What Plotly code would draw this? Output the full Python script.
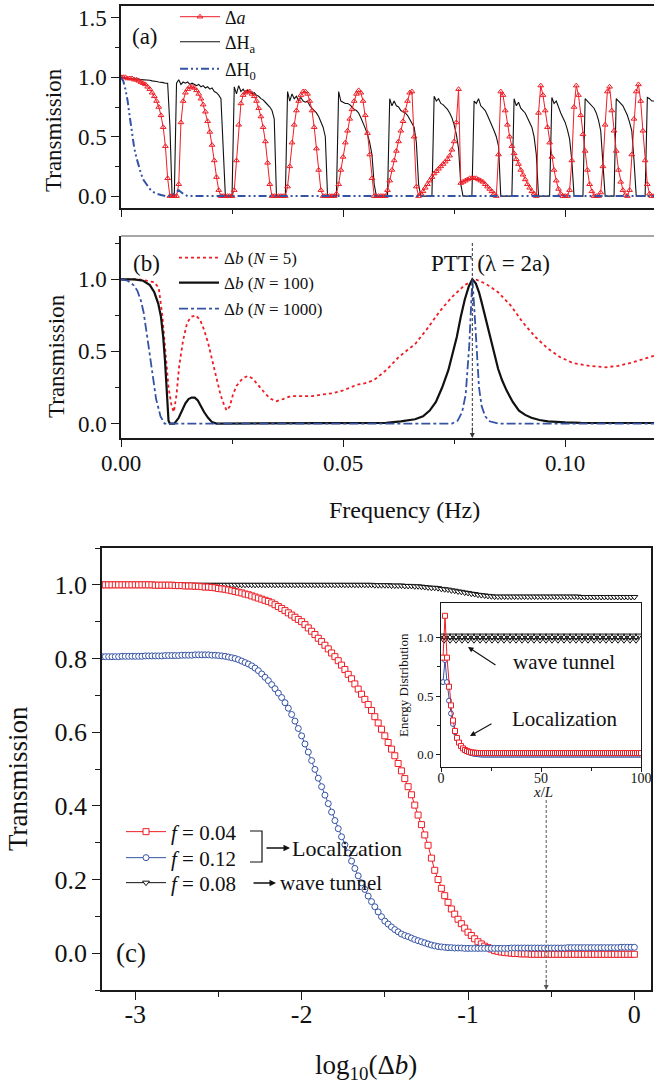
import numpy as np
import plotly.graph_objects as go

W, H = 654, 1086
FONT = "Liberation Serif, Times New Roman, Times, serif"
RED = "#ee1d25"
BLUE = "#3553a5"
BLACK = "#111111"
AXIS = "#1a1a1a"

# ---------------- panel (a): spectra sampled every 0.0005 Hz from 0 ----------------
FREQ_STEP_A = 0.0005

DELTA_A = [
    1.00, 1.00, 1.00, 0.99, 0.99, 0.99, 0.98, 0.98, 0.97, 0.96,
    0.95, 0.94, 0.92, 0.90, 0.87, 0.84, 0.80, 0.75, 0.68, 0.58,
    0.42, 0.15, 0.00, 0.00, 0.00, 0.00, 0.10, 0.62, 0.80, 0.87,
    0.90, 0.92, 0.92, 0.91, 0.89, 0.86, 0.82, 0.77, 0.71, 0.63,
    0.54, 0.43, 0.30, 0.16, 0.05, 0.00, 0.00, 0.00, 0.00, 0.00,
    0.00, 0.05, 0.30, 0.60, 0.78, 0.85, 0.87, 0.88, 0.88, 0.86,
    0.84, 0.80, 0.74, 0.67, 0.58, 0.46, 0.28, 0.10, 0.00, 0.00,
    0.00, 0.00, 0.00, 0.00, 0.00, 0.08, 0.25, 0.45, 0.60, 0.72,
    0.80, 0.85, 0.88, 0.88, 0.86, 0.80, 0.72, 0.58, 0.40, 0.22,
    0.05, 0.00, 0.00, 0.00, 0.00, 0.00, 0.00, 0.02, 0.10, 0.22,
    0.33, 0.45, 0.55, 0.65, 0.73, 0.80, 0.86, 0.89, 0.87, 0.80,
    0.68, 0.53, 0.35, 0.15, 0.00, 0.00, 0.00, 0.00, 0.00, 0.00,
    0.05, 0.13, 0.22, 0.30, 0.38, 0.46, 0.55, 0.63, 0.72, 0.80,
    0.87, 0.88, 0.50, 0.08, 0.00, 0.02, 0.04, 0.07, 0.10, 0.13,
    0.16, 0.19, 0.21, 0.23, 0.25, 0.27, 0.29, 0.31, 0.34, 0.39,
    0.46, 0.62, 0.90, 0.11, 0.12, 0.13, 0.14, 0.15, 0.15, 0.15,
    0.15, 0.14, 0.13, 0.12, 0.10, 0.08, 0.06, 0.04, 0.02, 0.00,
    0.35, 0.88, 0.85, 0.72, 0.60, 0.50, 0.42, 0.36, 0.31, 0.27,
    0.22, 0.18, 0.14, 0.10, 0.07, 0.04, 0.02, 0.00, 0.70, 0.93,
    0.85, 0.72, 0.58, 0.45, 0.33, 0.22, 0.13, 0.06, 0.02, 0.00,
    0.00, 0.00, 0.05, 0.30, 0.75, 0.93, 0.85, 0.68, 0.52, 0.38,
    0.22, 0.10, 0.04, 0.00, 0.00, 0.00, 0.03, 0.25, 0.60, 0.88,
    0.92, 0.72, 0.55, 0.38, 0.22, 0.12, 0.05, 0.01, 0.00, 0.05,
    0.35, 0.65, 0.88, 0.94, 0.80, 0.55, 0.30, 0.10, 0.02, 0.00, 0.00,
]

DELTA_HA = [
    1.00, 1.00, 0.995, 0.99, 0.99, 0.99, 0.99, 0.985, 0.985, 0.98,
    0.98, 0.98, 0.975, 0.975, 0.97, 0.97, 0.965, 0.96, 0.96, 0.955,
    0.95, 0.95, 0.60, 0.00, 0.00, 0.95, 0.98, 0.94, 0.96, 0.95,
    0.96, 0.94, 0.95, 0.94, 0.93, 0.94, 0.92, 0.93, 0.91, 0.92,
    0.90, 0.91, 0.88, 0.87, 0.85, 0.82, 0.40, 0.00, 0.00, 0.00,
    0.00, 0.92, 0.86, 0.93, 0.88, 0.90, 0.87, 0.89, 0.88, 0.86,
    0.87, 0.85, 0.84, 0.82, 0.81, 0.79, 0.77, 0.75, 0.72, 0.65,
    0.00, 0.00, 0.00, 0.00, 0.00, 0.88, 0.80, 0.86, 0.82, 0.84,
    0.80, 0.83, 0.80, 0.79, 0.80, 0.76, 0.74, 0.72, 0.70, 0.67,
    0.63, 0.58, 0.50, 0.00, 0.00, 0.00, 0.00, 0.00, 0.88, 0.80,
    0.79, 0.78, 0.78, 0.77, 0.75, 0.73, 0.72, 0.70, 0.66, 0.62,
    0.57, 0.52, 0.45, 0.35, 0.10, 0.00, 0.00, 0.00, 0.00, 0.00,
    0.00, 0.82, 0.76, 0.80, 0.76, 0.75, 0.72, 0.71, 0.70, 0.68,
    0.65, 0.62, 0.58, 0.45, 0.10, 0.00, 0.00, 0.00, 0.00, 0.00,
    0.00, 0.84, 0.80, 0.82, 0.78, 0.77, 0.75, 0.73, 0.70, 0.66,
    0.60, 0.52, 0.40, 0.10, 0.00, 0.00, 0.00, 0.00, 0.00, 0.80,
    0.78, 0.82, 0.76, 0.74, 0.72, 0.68, 0.64, 0.60, 0.55, 0.50,
    0.42, 0.00, 0.00, 0.00, 0.00, 0.00, 0.00, 0.82, 0.76, 0.79,
    0.74, 0.72, 0.70, 0.66, 0.62, 0.58, 0.50, 0.35, 0.00, 0.00,
    0.00, 0.00, 0.00, 0.00, 0.83, 0.78, 0.80, 0.74, 0.70, 0.66,
    0.62, 0.56, 0.48, 0.30, 0.00, 0.00, 0.00, 0.00, 0.00, 0.82,
    0.80, 0.78, 0.76, 0.74, 0.70, 0.64, 0.55, 0.30, 0.00, 0.00,
    0.00, 0.00, 0.00, 0.82, 0.80, 0.78, 0.76, 0.72, 0.68, 0.62,
    0.55, 0.30, 0.00, 0.00, 0.00, 0.00, 0.00, 0.83, 0.82, 0.80, 0.80,
]

H0_FREQ = [0.0, 0.0005, 0.001, 0.0015, 0.002, 0.0025, 0.003, 0.0035, 0.004,
           0.0045, 0.005, 0.0055, 0.006, 0.0065, 0.007, 0.0075, 0.008, 0.009,
           0.010, 0.011, 0.012, 0.013, 0.014, 0.015, 0.02, 0.03, 0.04, 0.05,
           0.06, 0.07, 0.08, 0.09, 0.10, 0.11, 0.12]
H0_T = [1.00, 0.97, 0.90, 0.80, 0.66, 0.52, 0.40, 0.32, 0.25,
        0.19, 0.14, 0.11, 0.08, 0.06, 0.04, 0.03, 0.02, 0.01,
        0.00, 0.00, 0.02, 0.05, 0.02, 0.00, 0.00, 0.00, 0.00, 0.00,
        0.00, 0.00, 0.00, 0.00, 0.00, 0.00, 0.00]

# ---------------- panel (b): (frequency, transmission) pairs ----------------
PTT_FREQ = 0.0791

N5 = [(0.0, 1.0), (0.004, 1.0), (0.0075, 0.98), (0.0085, 0.94), (0.0093, 0.75),
      (0.0100, 0.50), (0.0107, 0.25), (0.0114, 0.12), (0.0119, 0.08), (0.0125, 0.20),
      (0.0131, 0.40), (0.0140, 0.58), (0.0149, 0.70), (0.0158, 0.74), (0.0168, 0.75),
      (0.0178, 0.72), (0.0187, 0.65), (0.0196, 0.56), (0.0205, 0.45), (0.0215, 0.32),
      (0.0224, 0.20), (0.0232, 0.13), (0.0238, 0.09), (0.0245, 0.12), (0.0252, 0.20),
      (0.0260, 0.26), (0.0270, 0.30), (0.0278, 0.32), (0.0286, 0.33), (0.0297, 0.31),
      (0.0308, 0.27), (0.0318, 0.23), (0.0327, 0.20), (0.0338, 0.17), (0.0350, 0.155),
      (0.0365, 0.17), (0.0382, 0.19), (0.0400, 0.19), (0.0429, 0.19), (0.0450, 0.20),
      (0.0476, 0.21), (0.0500, 0.23), (0.0532, 0.27), (0.0550, 0.28), (0.0569, 0.30),
      (0.0597, 0.37), (0.0625, 0.46), (0.0645, 0.51), (0.0662, 0.55), (0.0690, 0.66),
      (0.0718, 0.78), (0.0746, 0.88), (0.0774, 0.96), (0.0798, 1.00), (0.0821, 0.97),
      (0.0849, 0.91), (0.0877, 0.82), (0.0905, 0.70), (0.0933, 0.60), (0.0961, 0.52),
      (0.0989, 0.46), (0.1017, 0.42), (0.1054, 0.40), (0.1091, 0.39), (0.1119, 0.40),
      (0.1147, 0.42), (0.1200, 0.47)]

N100 = [(0.0, 1.0), (0.003, 1.0), (0.005, 0.99), (0.0065, 0.96), (0.0075, 0.91),
        (0.0084, 0.83), (0.0090, 0.74), (0.0095, 0.60), (0.0099, 0.44), (0.0103, 0.20),
        (0.0107, 0.02), (0.0110, 0.0), (0.0120, 0.0), (0.0130, 0.04), (0.0138, 0.10),
        (0.0145, 0.14), (0.0152, 0.17), (0.0159, 0.18), (0.0166, 0.18), (0.0173, 0.16),
        (0.0180, 0.12), (0.0187, 0.08), (0.0196, 0.04), (0.0205, 0.01), (0.0215, 0.0),
        (0.0400, 0.0), (0.0597, 0.005), (0.0630, 0.015), (0.0662, 0.03), (0.0680, 0.05),
        (0.0695, 0.09), (0.0709, 0.15), (0.0723, 0.25), (0.0737, 0.37), (0.0746, 0.47),
        (0.0756, 0.60), (0.0765, 0.74), (0.0774, 0.86), (0.0783, 0.95), (0.0791, 1.0),
        (0.0799, 0.97), (0.0806, 0.91), (0.0812, 0.84), (0.0821, 0.73), (0.0830, 0.61),
        (0.0839, 0.49), (0.0849, 0.38), (0.0858, 0.30), (0.0868, 0.23), (0.0882, 0.15),
        (0.0896, 0.09), (0.0910, 0.06), (0.0924, 0.04), (0.0942, 0.025), (0.0961, 0.015),
        (0.1000, 0.008), (0.1035, 0.005), (0.1200, 0.004)]

N1000 = [(0.0, 1.0), (0.0015, 0.99), (0.0028, 0.96), (0.0037, 0.92), (0.0045, 0.85),
         (0.0051, 0.77), (0.0061, 0.56), (0.0070, 0.35), (0.0079, 0.17), (0.0089, 0.05),
         (0.0098, 0.0), (0.0745, 0.0), (0.0758, 0.02), (0.0768, 0.08), (0.0776, 0.20),
         (0.0784, 0.54), (0.0788, 0.80), (0.0791, 1.0), (0.0795, 0.82), (0.0800, 0.54),
         (0.0806, 0.25), (0.0812, 0.12), (0.0820, 0.05), (0.0830, 0.016), (0.0850, 0.0),
         (0.1200, 0.0)]

# ---------------- panel (c): transmission vs log10(Δb), step 0.02 from -3.2 ----------------
LOG_START, LOG_STEP = -3.2, 0.02

T_F004 = [
    1.000, 1.000, 1.000, 1.000, 1.000, 1.000, 1.000, 1.000, 1.000, 1.000,
    1.000, 1.000, 1.000, 1.000, 1.000, 1.000, 0.999, 0.999, 0.999, 0.999,
    0.999, 0.999, 0.998, 0.998, 0.998, 0.997, 0.997, 0.997, 0.996, 0.996,
    0.995, 0.994, 0.994, 0.993, 0.992, 0.990, 0.989, 0.988, 0.986, 0.984,
    0.982, 0.980, 0.978, 0.975, 0.973, 0.970, 0.967, 0.964, 0.961, 0.958,
    0.955, 0.951, 0.946, 0.941, 0.936, 0.930, 0.924, 0.918, 0.912, 0.906,
    0.900, 0.892, 0.883, 0.874, 0.865, 0.855, 0.846, 0.836, 0.826, 0.815,
    0.805, 0.794, 0.782, 0.770, 0.757, 0.745, 0.731, 0.717, 0.703, 0.689,
    0.675, 0.659, 0.642, 0.625, 0.608, 0.590, 0.572, 0.554, 0.536, 0.515,
    0.495, 0.474, 0.452, 0.430, 0.402, 0.375, 0.349, 0.321, 0.293, 0.258,
    0.225, 0.200, 0.176, 0.156, 0.138, 0.120, 0.106, 0.092, 0.080, 0.068,
    0.057, 0.048, 0.039, 0.031, 0.025, 0.019, 0.015, 0.011, 0.007, 0.005,
    0.003, 0.002, 0.001, 0.000, -0.001, -0.001, -0.002, -0.002, -0.002, -0.003,
    -0.003, -0.003, -0.003, -0.003, -0.003, -0.003, -0.003, -0.003, -0.003, -0.003,
    -0.003, -0.003, -0.003, -0.003, -0.003, -0.003, -0.003, -0.003, -0.003, -0.003,
    -0.003, -0.003, -0.003, -0.003, -0.003, -0.003, -0.003, -0.003, -0.003, -0.003, -0.003,
]

T_F012 = [
    0.805, 0.805, 0.805, 0.805, 0.805, 0.805, 0.806, 0.806, 0.806, 0.806,
    0.806, 0.806, 0.806, 0.807, 0.807, 0.807, 0.807, 0.807, 0.807, 0.808,
    0.808, 0.808, 0.808, 0.808, 0.809, 0.809, 0.809, 0.809, 0.810, 0.810,
    0.810, 0.810, 0.810, 0.809, 0.809, 0.808, 0.807, 0.806, 0.804, 0.802,
    0.800, 0.797, 0.793, 0.789, 0.785, 0.780, 0.774, 0.767, 0.758, 0.749,
    0.740, 0.729, 0.718, 0.706, 0.694, 0.680, 0.665, 0.648, 0.630, 0.610,
    0.590, 0.568, 0.546, 0.523, 0.499, 0.475, 0.452, 0.429, 0.406, 0.383,
    0.360, 0.338, 0.316, 0.294, 0.272, 0.250, 0.230, 0.210, 0.191, 0.173,
    0.155, 0.140, 0.126, 0.112, 0.099, 0.087, 0.079, 0.071, 0.064, 0.058,
    0.052, 0.048, 0.045, 0.041, 0.037, 0.034, 0.031, 0.028, 0.025, 0.022,
    0.020, 0.018, 0.017, 0.016, 0.015, 0.015, 0.014, 0.014, 0.014, 0.013,
    0.013, 0.013, 0.013, 0.013, 0.013, 0.013, 0.013, 0.013, 0.013, 0.013,
    0.013, 0.013, 0.013, 0.014, 0.014, 0.014, 0.014, 0.014, 0.014, 0.014,
    0.014, 0.014, 0.014, 0.014, 0.014, 0.014, 0.014, 0.014, 0.014, 0.014,
    0.015, 0.015, 0.015, 0.015, 0.015, 0.015, 0.015, 0.015, 0.015, 0.015,
    0.015, 0.015, 0.015, 0.015, 0.015, 0.015, 0.016, 0.016, 0.016, 0.016, 0.016,
]

T_F008 = [
    1.000, 1.000, 1.000, 1.000, 1.000, 1.000, 1.000, 1.000, 1.000, 1.000,
    1.000, 1.000, 1.000, 1.000, 1.000, 1.000, 1.000, 1.000, 1.000, 1.000,
    1.000, 1.000, 1.000, 1.000, 1.000, 1.000, 1.000, 1.000, 1.000, 1.000,
    1.000, 1.000, 1.000, 1.000, 1.000, 1.000, 1.000, 1.000, 1.000, 1.000,
    1.000, 1.000, 1.000, 1.000, 1.000, 1.000, 1.000, 1.000, 1.000, 1.000,
    1.000, 1.000, 1.000, 1.000, 1.000, 1.000, 1.000, 1.000, 1.000, 1.000,
    1.000, 1.000, 1.000, 1.000, 1.000, 1.000, 1.000, 1.000, 1.000, 1.000,
    1.000, 1.000, 1.000, 1.000, 1.000, 1.000, 1.000, 1.000, 1.000, 1.000,
    1.000, 1.000, 0.999, 0.999, 0.999, 0.999, 0.999, 0.998, 0.998, 0.998,
    0.998, 0.997, 0.997, 0.997, 0.996, 0.996, 0.995, 0.994, 0.993, 0.992,
    0.992, 0.991, 0.989, 0.988, 0.987, 0.985, 0.984, 0.982, 0.981, 0.979,
    0.978, 0.976, 0.975, 0.973, 0.972, 0.971, 0.970, 0.969, 0.968, 0.968,
    0.968, 0.968, 0.968, 0.968, 0.968, 0.968, 0.968, 0.968, 0.968, 0.968,
    0.968, 0.968, 0.968, 0.968, 0.968, 0.968, 0.968, 0.968, 0.968, 0.968,
    0.968, 0.968, 0.968, 0.968, 0.967, 0.967, 0.967, 0.967, 0.967, 0.967,
    0.967, 0.967, 0.967, 0.967, 0.967, 0.967, 0.967, 0.967, 0.967, 0.967, 0.967,
]
LOG_ARROW = -0.53

# inset: energy distribution along x/L (cells 1..100)
INSET_F004 = [
    0.83, 1.19, 0.83, 0.58, 0.42, 0.29, 0.20, 0.14, 0.10, 0.07,
    0.050, 0.036, 0.027, 0.021, 0.017, 0.014, 0.012, 0.011, 0.010, 0.010,
    0.010, 0.010, 0.010, 0.010, 0.010, 0.010, 0.010, 0.010, 0.010, 0.010,
    0.010, 0.010, 0.010, 0.010, 0.010, 0.010, 0.010, 0.010, 0.010, 0.010,
    0.010, 0.010, 0.010, 0.010, 0.010, 0.010, 0.010, 0.010, 0.010, 0.010,
    0.010, 0.010, 0.010, 0.010, 0.010, 0.010, 0.010, 0.010, 0.010, 0.010,
    0.010, 0.010, 0.010, 0.010, 0.010, 0.010, 0.010, 0.010, 0.010, 0.010,
    0.010, 0.010, 0.010, 0.010, 0.010, 0.010, 0.010, 0.010, 0.010, 0.010,
    0.010, 0.010, 0.010, 0.010, 0.010, 0.010, 0.010, 0.010, 0.010, 0.010,
    0.010, 0.010, 0.010, 0.010, 0.010, 0.010, 0.010, 0.010, 0.010, 0.010,
]
INSET_F012 = [
    0.62, 0.81, 0.62, 0.46, 0.35, 0.26, 0.19, 0.14, 0.10, 0.07,
    0.050, 0.035, 0.024, 0.016, 0.010, 0.005, 0.002, 0.000, -0.002, -0.004,
    -0.005, -0.005, -0.005, -0.005, -0.005, -0.005, -0.005, -0.005, -0.005, -0.005,
    -0.005, -0.005, -0.005, -0.005, -0.005, -0.005, -0.005, -0.005, -0.005, -0.005,
    -0.005, -0.005, -0.005, -0.005, -0.005, -0.005, -0.005, -0.005, -0.005, -0.005,
    -0.005, -0.005, -0.005, -0.005, -0.005, -0.005, -0.005, -0.005, -0.005, -0.005,
    -0.005, -0.005, -0.005, -0.005, -0.005, -0.005, -0.005, -0.005, -0.005, -0.005,
    -0.005, -0.005, -0.005, -0.005, -0.005, -0.005, -0.005, -0.005, -0.005, -0.005,
    -0.005, -0.005, -0.005, -0.005, -0.005, -0.005, -0.005, -0.005, -0.005, -0.005,
    -0.005, -0.005, -0.005, -0.005, -0.005, -0.005, -0.005, -0.005, -0.005, -0.005,
]
INSET_F008_STEP = 1.5
INSET_F008 = [
    1.02, 0.98, 1.02, 0.98, 1.02, 0.98, 1.02, 0.98, 1.02, 0.98,
    1.02, 0.98, 1.02, 0.98, 1.02, 0.98, 1.02, 0.98, 1.02, 0.98,
    1.02, 0.98, 1.02, 0.98, 1.02, 0.98, 1.02, 0.98, 1.02, 0.98,
    1.02, 0.98, 1.02, 0.98, 1.02, 0.98, 1.02, 0.98, 1.02, 0.98,
    1.02, 0.98, 1.02, 0.98, 1.02, 0.98, 1.02, 0.98, 1.02, 0.98,
    1.02, 0.98, 1.02, 0.98, 1.02, 0.98, 1.02, 0.98, 1.02, 0.98,
    1.02, 0.98, 1.02, 0.98, 1.02, 0.98, 1.02,
]


def px(x):
    return x / W


def py(y):
    return 1 - y / H


freq_a = np.arange(len(DELTA_A)) * FREQ_STEP_A
freq_ha = np.arange(len(DELTA_HA)) * FREQ_STEP_A


def log_b(arr):
    return LOG_START + LOG_STEP * np.arange(len(arr))


fig = go.Figure()

# ---- panel (a)
fig.add_trace(go.Scatter(x=freq_ha, y=DELTA_HA, mode="lines", name="ΔH<sub>a</sub>",
                         line=dict(color=BLACK, width=1.1), xaxis="x", yaxis="y",
                         legend="legend2"))
fig.add_trace(go.Scatter(x=freq_a, y=DELTA_A, mode="lines+markers", name="Δ<i>a</i>",
                         line=dict(color=RED, width=1),
                         marker=dict(symbol="triangle-up-open", size=5, color=RED,
                                     line=dict(width=1)),
                         xaxis="x", yaxis="y", legend="legend"))
fig.add_trace(go.Scatter(x=H0_FREQ, y=H0_T, mode="lines", name="ΔH<sub>0</sub>",
                         line=dict(color=BLUE, width=2, dash="8px,3px,2px,3px,2px,3px"),
                         xaxis="x", yaxis="y", legend="legend3"))

# ---- panel (b)
for pts, name, style, leg in [
    (N5, "Δ<i>b</i> (<i>N</i> = 5)", dict(color=RED, width=1.8, dash="dot"), "legend4"),
    (N100, "Δ<i>b</i> (<i>N</i> = 100)", dict(color=BLACK, width=2.2), "legend5"),
    (N1000, "Δ<i>b</i> (<i>N</i> = 1000)", dict(color=BLUE, width=1.8, dash="dashdot"), "legend6"),
]:
    fx, fy = zip(*pts)
    fig.add_trace(go.Scatter(x=fx, y=fy, mode="lines", name=name, line=style,
                             xaxis="x2", yaxis="y2", legend=leg))

# ---- panel (c)
for vals, name, sym, col, leg in [
    (T_F008, "<i>f</i> = 0.08", "triangle-down", BLACK, "legend9"),
    (T_F004, "<i>f</i> = 0.04", "square", RED, "legend7"),
    (T_F012, "<i>f</i> = 0.12", "circle", BLUE, "legend8"),
]:
    fig.add_trace(go.Scatter(x=log_b(vals), y=vals, mode="lines+markers", name=name,
                             line=dict(color=col, width=1),
                             marker=dict(symbol=sym, size=6, color="white",
                                         line=dict(color=col, width=1)),
                             xaxis="x3", yaxis="y3", legend=leg))

# ---- inset
fig.add_trace(go.Scatter(x=np.arange(len(INSET_F008)) * INSET_F008_STEP, y=INSET_F008,
                         mode="lines+markers", line=dict(color=BLACK, width=1),
                         marker=dict(symbol="triangle-down-open", size=6, color=BLACK),
                         xaxis="x4", yaxis="y4", showlegend=False))
fig.add_trace(go.Scatter(x=np.arange(1, len(INSET_F012) + 1), y=INSET_F012,
                         mode="lines+markers", line=dict(color=BLUE, width=1),
                         marker=dict(symbol="circle", size=5, color="white",
                                     line=dict(color=BLUE, width=1)),
                         xaxis="x4", yaxis="y4", showlegend=False))
fig.add_trace(go.Scatter(x=np.arange(1, len(INSET_F004) + 1), y=INSET_F004,
                         mode="lines+markers", line=dict(color=RED, width=1),
                         marker=dict(symbol="square", size=5, color="white",
                                     line=dict(color=RED, width=1)),
                         xaxis="x4", yaxis="y4", showlegend=False))

axis_common = dict(showline=True, linecolor=AXIS, linewidth=1.5, showgrid=False,
                   zeroline=False, ticks="outside", tickcolor=AXIS, tickwidth=1.3,
                   automargin=False,
                   tickfont=dict(family=FONT, size=23, color=BLACK))

fa_x = dict(axis_common, domain=[px(121), 1.0], range=[0, 0.12], tick0=0, dtick=0.05,
            ticklen=7, minor=dict(dtick=0.025, ticks="outside", ticklen=4, tickcolor=AXIS))
fa_y = dict(axis_common, range=[-0.1, 1.6], dtick=0.5, tick0=0, tickformat=".1f", ticklen=8,
            minor=dict(dtick=0.25, ticks="outside", ticklen=4, tickcolor=AXIS))


def legend_at(x, y, size):
    # one legend entry whose sample starts at pixel x and is centred on pixel row y
    return dict(x=px(x), y=py(y), xanchor="left", yanchor="middle",
                bgcolor="rgba(0,0,0,0)", borderwidth=0, itemwidth=40, tracegroupgap=0,
                font=dict(family=FONT, size=size, color=BLACK))


layout = dict(
    width=W, height=H, margin=dict(l=0, r=0, t=0, b=0, autoexpand=False),
    paper_bgcolor="white", plot_bgcolor="white",
    font=dict(family=FONT, color=BLACK),
    xaxis=dict(fa_x, anchor="y", showticklabels=False, mirror=True),
    yaxis=dict(fa_y, anchor="x", domain=[py(208), py(6)]),
    xaxis2=dict(fa_x, anchor="y2", tickformat=".2f", ticklabelstandoff=-3),
    yaxis2=dict(fa_y, anchor="x2", domain=[py(438), py(236)], range=[-0.1, 1.3]),
    xaxis3=dict(axis_common, anchor="y3", domain=[px(102), px(651)], range=[-3.2, 0.1],
                tickvals=[-3, -2, -1, 0], ticktext=["-3", "-2", "-1", "0"], ticklen=8,
                minor=dict(tickvals=[-2.5, -1.5, -0.5], ticks="outside", ticklen=5,
                           tickcolor=AXIS),
                ticklabelstandoff=-8,
                mirror=True, tickfont=dict(family=FONT, size=26, color=BLACK)),
    yaxis3=dict(axis_common, anchor="x3", domain=[py(990), py(548)], range=[-0.1, 1.1],
                tick0=0, dtick=0.2, tickformat=".1f", ticklen=8,
                minor=dict(dtick=0.1, tick0=0, ticks="outside", ticklen=5, tickcolor=AXIS),
                mirror=True, tickfont=dict(family=FONT, size=26, color=BLACK)),
    xaxis4=dict(axis_common, anchor="y4", domain=[px(441), px(641)], range=[0, 100],
                tickvals=[0, 50, 100], ticklen=4, linewidth=1, tickwidth=1,
                minor=dict(tickvals=[25, 75], ticks="outside", ticklen=3, tickcolor=AXIS),
                ticklabelstandoff=-6,
                mirror=True, tickfont=dict(family=FONT, size=14, color=BLACK)),
    yaxis4=dict(axis_common, anchor="x4", domain=[py(767), py(603)], range=[-0.11, 1.3],
                tickvals=[0, 0.5, 1.0], tickformat=".1f", ticklen=4, linewidth=1, tickwidth=1,
                minor=dict(tickvals=[0.25, 0.75], ticks="outside", ticklen=3, tickcolor=AXIS),
                mirror=True, tickfont=dict(family=FONT, size=13, color=BLACK)),
    legend=legend_at(175, 17, 18),
    legend2=legend_at(175, 42, 18),
    legend3=legend_at(175, 69, 18),
    legend4=legend_at(174, 258, 17),
    legend5=legend_at(174, 283, 17),
    legend6=legend_at(174, 309, 17),
    legend7=legend_at(121, 832, 21),
    legend8=legend_at(121, 858, 21),
    legend9=legend_at(121, 883, 21),
)


def label(text, x, y, size, angle=0):
    return dict(text=text, x=px(x), y=py(y), xref="paper", yref="paper", showarrow=False,
                xanchor="center", yanchor="middle", textangle=angle,
                font=dict(family=FONT, size=size, color=BLACK))


def arrow(xh, yh, xt, yt, width=1.2, color=BLACK, xref="paper", xval=None):
    return dict(text="", x=px(xh) if xval is None else xval, y=py(yh), xref=xref,
                yref="paper", ax=xt - xh, ay=yt - yh, axref="pixel", ayref="pixel",
                showarrow=True, arrowhead=2, arrowsize=1, arrowwidth=width, arrowcolor=color)


annotations = [
    label("Transmission", 53, 130, 23, -90),
    label("(a)", 145, 37, 23),
    label("Transmission", 56, 356, 23, -90),
    label("(b)", 146, 263, 23),
    label("Frequency (Hz)", 405, 510, 24),
    label("PTT (λ = 2a)", 490, 263, 23),
    label("Transmission", 18, 779, 27, -90),
    label("log<sub>10</sub>(Δ<i>b</i>)", 366, 1067, 27),
    label("(c)", 131, 953, 27),
    label("Localization", 347, 848, 22),
    label("wave tunnel", 331, 883, 21),
    label("Energy Distribution", 403, 685, 13, -90),
    label("<i>x</i>/<i>L</i>", 543, 792, 15),
    label("wave tunnel", 564, 662, 21),
    label("Localization", 564, 719, 21),
    arrow(0, 438, 0, 426, 1, "#333333", "x2", PTT_FREQ),
    arrow(0, 990, 0, 978, 1, "#555555", "x3", LOG_ARROW),
    arrow(290, 848, 265, 848, 1.3),
    arrow(276, 883, 252, 883, 1.3),
    arrow(468, 647, 497, 666, 1.1),
    arrow(470, 736, 493, 723, 1.1),
]

shapes = [
    # grey top frame of panel (b)
    dict(type="line", xref="paper", yref="paper", x0=px(121), x1=1.0, y0=py(236), y1=py(236),
         line=dict(color="#8a8a8a", width=1.5)),
    dict(type="line", xref="x2", yref="paper", x0=PTT_FREQ, x1=PTT_FREQ,
         y0=py(243), y1=py(430), line=dict(color="#333333", width=1, dash="3px,2px")),
    dict(type="line", xref="x3", yref="paper", x0=LOG_ARROW, x1=LOG_ARROW,
         y0=py(800), y1=py(982), line=dict(color="#555555", width=1, dash="3px,2px")),
    dict(type="path", xref="paper", yref="paper",
         path=f"M {px(250)},{py(831)} L {px(262)},{py(831)} L {px(262)},{py(862)} L {px(250)},{py(862)}",
         line=dict(color=BLACK, width=1.2)),
]

layout["annotations"] = annotations
layout["shapes"] = shapes
fig.update_layout(**layout)

fig.write_html("out.html")
